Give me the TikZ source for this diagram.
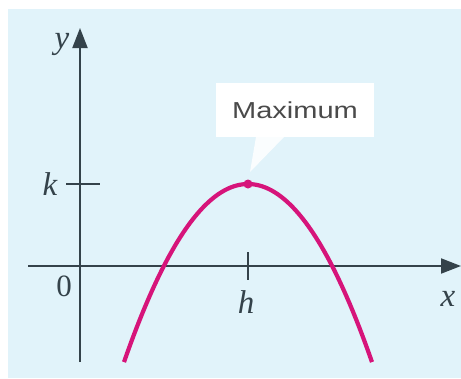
\documentclass[tikz,border=0pt]{standalone}
\usepackage{fontspec}
\setmainfont{Liberation Serif}
\newfontfamily\labelsans{Liberation Sans}
\usetikzlibrary{arrows.meta}
\definecolor{bgblue}{HTML}{E1F3FA}
\definecolor{axisgray}{HTML}{34424A}
\definecolor{curvemag}{HTML}{D6147A}
\definecolor{textgray}{HTML}{4A4A4A}
\tikzset{
  axisline/.style={draw=axisgray, line width=2pt, -{Triangle[length=20pt,width=15pt]}},
  tickline/.style={draw=axisgray, line width=1.6pt},
  lbl/.style={font=\fontsize{33}{35}\selectfont\itshape, text=axisgray, inner sep=0pt},
  callout/.style={fill=white, draw=none, minimum width=158pt, minimum height=54pt, inner sep=0pt, font=\labelsans\fontsize{22}{24}\selectfont, text=textgray}
}
\begin{document}
\begin{tikzpicture}[x=1pt,y=-1pt]
\useasboundingbox (0,0) rectangle (461,378);
\fill[bgblue] (8,9) rectangle (461,378);
% coordinates
\coordinate (xs) at (28,266);
\coordinate (xe) at (461,266);
\coordinate (ys) at (80,362);
\coordinate (ye) at (80,28);
\coordinate (V) at (248,184);
% axes
\draw[axisline] (xs) -- (xe);
\draw[axisline] (ys) -- (ye);
% ticks
\coordinate (k1) at (66,184);
\coordinate (k2) at (100,184);
\coordinate (h1) at (248,252);
\coordinate (h2) at (248,280);
\draw[tickline] (k1) -- (k2);
\draw[tickline] (h1) -- (h2);
% labels
\node[lbl] (ylab) at (62,44) {y};
\node[lbl] (xlab) at (448,299) {x};
\node[lbl] (klab) at (50,184) {k};
\node[lbl] (hlab) at (246,302) {h};
\node[lbl, font=\fontsize{31}{33}\selectfont] (zero) at (64,286) {0};
% parabola
\draw[curvemag, line width=4.2pt] plot[domain=-124:124, samples=80] ({248+\x},{184+0.01158*\x*\x});
\fill[curvemag] (V) circle (4.5pt);
% callout
\node[callout] (maxbox) at (295,110) {\scalebox{1.32}[1.05]{Maximum}};
\coordinate (p1) at (256,137);
\coordinate (p2) at (284,137);
\coordinate (tip) at (250,172);
\fill[white, opacity=0.85] (p1) -- (p2) -- (tip) -- cycle;
\end{tikzpicture}
\end{document}
